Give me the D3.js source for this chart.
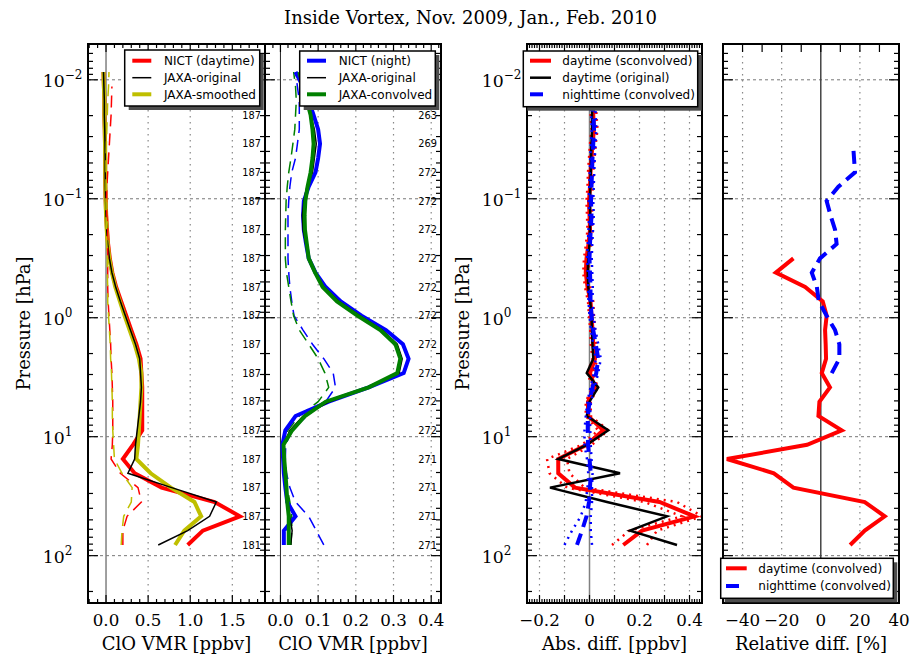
<!DOCTYPE html>
<html><head><meta charset="utf-8">
<script src="https://cdn.jsdelivr.net/npm/d3@7"></script>
<style>body{margin:0;background:#fff}svg{display:block}</style>
</head><body><svg id="c" width="912" height="659"></svg>
<script>
// ---------------- DATA ----------------
const titleText = "Inside Vortex, Nov. 2009, Jan., Feb. 2010";
// pressure levels [hPa], bottom (high pressure) to top
const pressure = [81.3,61.6,46.7,35.4,26.8,20.3,15.4,11.7,8.84,6.70,5.08,3.85,2.92,2.21,1.67,1.27,0.962,0.728,0.552,0.418,0.317,0.240,0.182,0.138,0.1045,0.0792,0.0600,0.0455,0.0345,0.0261,0.0198,0.0150,0.0114,0.0086];
// Panel 1: daytime ClO [ppbv]
const nictDay      = [0.97,1.15,1.59,1.29,0.66,0.34,0.20,0.32,0.43,0.43,0.43,0.43,0.42,0.41,0.36,0.30,0.24,0.18,0.12,0.075,0.045,0.025,0.012,0.002,-0.004,-0.008,-0.01,-0.01,-0.012,-0.015,-0.02,-0.02,-0.025,-0.03];
const jaxaDayOrig  = [0.62,0.97,1.23,1.31,0.78,0.26,0.34,0.35,0.37,0.39,0.41,0.42,0.41,0.40,0.35,0.29,0.23,0.17,0.115,0.07,0.04,0.02,0.008,0.0,-0.005,-0.008,-0.01,-0.01,-0.012,-0.015,-0.02,-0.02,-0.025,-0.03];
const jaxaDaySmooth= [0.82,0.93,1.13,1.05,0.77,0.53,0.36,0.38,0.39,0.40,0.41,0.42,0.42,0.39,0.34,0.28,0.22,0.165,0.11,0.07,0.04,0.02,0.008,0.0,-0.005,-0.008,-0.01,-0.01,-0.012,-0.015,-0.02,-0.02,-0.025,-0.03];
const nictDayDash  = [0.20,0.20,0.25,0.42,0.38,0.17,0.06,0.075,0.08,0.08,0.08,0.075,0.07,0.06,0.055,0.045,0.035,0.025,0.02,0.02,0.02,0.02,0.02,0.01,0.005,0.01,0.02,0.03,0.04,0.05,0.06,0.065,0.07,null];
const jaxaDayDash  = [0.18,0.19,0.21,0.30,0.31,0.19,0.10,0.09,0.08,0.075,0.075,0.07,0.065,0.055,0.05,0.04,0.03,0.02,0.02,0.015,0.015,0.01,0.005,0,0,0,0,0,0.005,0.01,0.015,0.02,0.03,0.035];
// Panel 2: nighttime ClO [ppbv]
const nictNight    = [0.009,0.009,0.04,0.018,0.013,0.009,0.007,0.005,0.013,0.04,0.128,0.234,0.327,0.34,0.325,0.28,0.215,0.16,0.12,0.093,0.075,0.068,0.062,0.06,0.062,0.075,0.093,0.10,0.105,0.10,0.088,0.075,0.06,0.04];
const jaxaNightOrig= [0.027,0.031,0.025,0.02,0.015,0.012,0.008,0.008,0.025,0.06,0.13,0.235,0.315,0.323,0.31,0.27,0.21,0.155,0.115,0.09,0.074,0.067,0.06,0.058,0.062,0.07,0.085,0.09,0.095,0.09,0.08,0.07,0.06,0.05];
const jaxaNightConv= [0.022,0.022,0.022,0.018,0.016,0.013,0.01,0.008,0.031,0.065,0.12,0.234,0.31,0.318,0.305,0.265,0.205,0.15,0.112,0.092,0.075,0.07,0.065,0.064,0.066,0.072,0.08,0.085,0.088,0.085,0.08,0.07,0.06,0.05];
const nictNightDash= [0.115,0.095,0.075,0.04,0.025,0.016,0.013,0.014,0.03,0.07,0.12,0.146,0.14,0.115,0.085,0.06,0.036,0.03,0.025,0.022,0.02,0.02,0.02,0.02,0.022,0.025,0.03,0.04,0.045,0.05,0.05,0.05,0.045,0.04];
const jaxaNightDash= [0.028,0.03,0.03,0.025,0.018,0.012,0.009,0.01,0.02,0.05,0.1,0.128,0.118,0.1,0.075,0.05,0.035,0.028,0.022,0.016,0.013,0.013,0.013,0.014,0.015,0.018,0.022,0.028,0.033,0.038,0.04,0.042,0.04,0.035];
// Panel 3: absolute differences [ppbv]
const dayConvDiff  = [0.135,0.21,0.42,0.28,-0.058,-0.125,-0.125,-0.011,0.055,-0.006,-0.006,0.022,0.002,0.022,0.015,0.012,0.008,0.004,-0.008,-0.015,-0.012,-0.004,0.002,0.0,-0.002,0.002,0.004,0.008,0.012,0.018,0.015,0.012,0.01,0.01];
const dayConvLo    = [0.09,0.16,0.37,0.22,-0.09,-0.16,-0.17,-0.03,0.035,-0.015,-0.015,0.012,-0.008,0.012,0.005,0.003,-0.002,-0.006,-0.018,-0.025,-0.022,-0.014,-0.008,-0.01,-0.012,-0.008,-0.006,-0.002,0.002,0.008,0.005,0.002,0.0,0.0];
const dayConvHi    = [0.23,0.27,0.45,0.35,-0.02,-0.08,-0.09,0.01,0.075,0.005,0.005,0.033,0.013,0.033,0.026,0.022,0.018,0.015,0.003,-0.004,-0.001,0.007,0.013,0.011,0.009,0.013,0.015,0.02,0.025,0.032,0.028,0.024,0.022,0.022];
const dayOrigDiff  = [0.35,0.162,0.31,0.07,-0.158,0.122,-0.125,-0.011,0.075,-0.011,0.0,0.035,-0.011,0.015,0.012,0.01,0.008,0.003,-0.005,-0.007,-0.005,0.0,0.002,0.003,0.002,0.003,0.005,0.006,0.008,0.01,0.01,0.01,0.008,0.008];
const nightConvDiff= [-0.05,-0.03,-0.012,-0.002,0.002,0.005,0.0,-0.006,-0.007,-0.007,0.0,0.012,0.027,0.035,0.025,0.015,0.008,0.004,0.004,0.002,0.0,0.002,0.005,0.008,0.006,0.008,0.01,0.012,0.015,0.018,0.016,0.012,0.01,0.01];
const nightConvLo  = [-0.10,-0.07,-0.035,-0.015,-0.008,-0.005,-0.01,-0.02,-0.02,-0.015,-0.008,0.004,0.018,0.025,0.015,0.006,0.0,-0.004,-0.005,-0.007,-0.009,-0.007,-0.004,-0.001,-0.003,-0.001,0.001,0.003,0.006,0.009,0.007,0.003,0.001,0.001];
const nightConvHi  = [0.01,0.005,0.005,0.01,0.01,0.012,0.008,0.005,0.003,0.002,0.006,0.02,0.035,0.045,0.035,0.024,0.016,0.012,0.013,0.011,0.009,0.011,0.014,0.017,0.015,0.017,0.019,0.021,0.024,0.027,0.025,0.021,0.019,0.019];
// Panel 4: relative differences [%]
const dayRel   = [15,22.5,32.7,22.5,-14,-24,-48,-7,10.7,-1.2,-0.7,4.7,0.5,2.7,2.5,2.2,3,1,-8,-23,-14,null,null,null,null,null,null,null,null,null,null,null,null,null];
const nightRel = [null,null,null,null,null,null,null,null,null,null,null,null,5.6,9.5,9.5,7.3,3,-1,-2,-4.6,-0.4,8.1,7.3,5,3,9,17.5,17,16.5,null,null,null,null,null];
// number of profiles, every second level from the bottom
const countsDay   = [181,187,187,187,187,187,187,187,187,187,187,187,187,187,187,187];
const countsNight = [271,271,271,271,272,272,272,272,272,272,272,272,272,272,269,263];
// tick labels
const yDecades = [0.01,0.1,1,10,100];
const yDecadeExp = ["\u22122","\u22121","0","1","2"];
const p1Ticks = [0,0.5,1.0,1.5];
const p2Ticks = [0,0.1,0.2,0.3,0.4];
const p3Ticks = [-0.2,0,0.2,0.4];
const p4Ticks = [-40,-20,0,20,40];

// ---------------- DRAW ----------------
const W=912,H=659, Y0=44, Y1=603;
const serif="'DejaVu Serif', serif", sans="'DejaVu Sans', sans-serif";
const svg=d3.select('#c');
svg.append('rect').attr('width',W).attr('height',H).attr('fill','#fff');
const y=d3.scaleLog().domain([250,0.005]).range([Y1,Y0]);
const minorP=[];
for(let e=-3;e<=2;e++)for(let m=2;m<=9;m++){const v=m*Math.pow(10,e);if(v>=0.0049&&v<=251)minorP.push(v);}
const fmtMinus=s=>s.replace('-','\u2212');

svg.append('text').attr('x',470.5).attr('y',24).attr('text-anchor','middle')
  .attr('font-family',serif).attr('font-size',18).text(titleText);

const RED='#ff0000',BLUE='#0000ff',GREEN='#008000',YEL='#bfbf00',BLK='#000000';
const panels=[
 {id:1,x0:88,x1:265,dom:[-0.214,1.888],ticks:p1Ticks,fmt:d=>d.toFixed(1),major:p1Ticks,minor:d3.range(-2,19).map(i=>i/10),
  grid:[0.5,1,1.5],zero:'#808080',zw:1.5,xlabel:'ClO VMR [ppbv]',ylab:true,counts:countsDay,
  series:[
   {v:nictDay,c:RED,w:4},{v:jaxaDaySmooth,c:YEL,w:4},{v:jaxaDayOrig,c:BLK,w:1.5},
   {v:nictDayDash,c:RED,w:1.5,d:'12,7'},{v:jaxaDayDash,c:YEL,w:1.5,d:'12,7'}],
  legend:{x:124.7,y:50,w:135,h:56,rows:[10.7,27.7,44.3],sx:7.6,sl:19,tx:39.3,items:[
   {t:'NICT (daytime)',c:RED,w:4},{t:'JAXA-original',c:BLK,w:1.5},{t:'JAXA-smoothed',c:YEL,w:4}]}},
 {id:2,x0:265,x1:441,dom:[-0.041,0.426],ticks:p2Ticks,fmt:d=>d.toFixed(1),major:p2Ticks,minor:d3.range(-2,22).map(i=>i/50),
  grid:[0.1,0.2,0.3,0.4],zero:'#222',zw:1,xlabel:'ClO VMR [ppbv]',ylab:false,counts:countsNight,
  series:[
   {v:nictNightDash,c:BLUE,w:1.5,d:'12,7'},{v:jaxaNightDash,c:GREEN,w:1.5,d:'12,7'},
   {v:nictNight,c:BLUE,w:4},{v:jaxaNightOrig,c:BLK,w:1.5},{v:jaxaNightConv,c:GREEN,w:4}],
  legend:{x:299.7,y:51,w:135.6,h:55,rows:[9.7,26.7,43.3],sx:7.3,sl:19,tx:39,items:[
   {t:'NICT (night)',c:BLUE,w:4},{t:'JAXA-original',c:BLK,w:1.5},{t:'JAXA-convolved',c:GREEN,w:4}]}},
 {id:3,x0:527,x1:702,dom:[-0.25,0.45],ticks:p3Ticks,fmt:d=>d===0?'0':fmtMinus(d.toFixed(1)),major:d3.range(-2,5).map(i=>i/10),minor:d3.range(-25,46).map(i=>i/100),
  grid:[-0.2,-0.1,0.1,0.2,0.3,0.4],zero:'#808080',zw:1.5,xlabel:'Abs. diff. [ppbv]',ylab:true,counts:null,
  series:[
   {v:dayConvLo,c:RED,w:2.5,d:'2,5'},{v:dayConvHi,c:RED,w:2.5,d:'2,5'},
   {v:dayConvDiff,c:RED,w:4},{v:dayOrigDiff,c:BLK,w:2.5},
   {v:nightConvLo,c:BLUE,w:2.5,d:'2,5'},{v:nightConvHi,c:BLUE,w:2.5,d:'2,5'},
   {v:nightConvDiff,c:BLUE,w:4,d:'12,7'}],
  legend:{x:523.3,y:51,w:174.4,h:55.7,rows:[9.7,26.7,43.3],sx:6.7,sl:21,tx:39,items:[
   {t:'daytime (sconvolved)',c:RED,w:4},{t:'daytime (original)',c:BLK,w:2.5},{t:'nighttime (convolved)',c:BLUE,w:4,d:'13,9'}]}},
 {id:4,x0:723,x1:899,dom:[-50,40],ticks:p4Ticks,fmt:d=>fmtMinus(String(d)),major:d3.range(-5,5).map(i=>i*10),minor:[],
  grid:[-40,-20,20],zero:'#444',zw:1.5,xlabel:'Relative diff. [%]',ylab:false,counts:null,
  series:[{v:dayRel,c:RED,w:4},{v:nightRel,c:BLUE,w:4,d:'13,7'}],
  legend:{x:720.7,y:558.3,w:172.6,h:40,rows:[10,27.7],sx:5.3,sl:20.7,tx:37.6,items:[
   {t:'daytime (convolved)',c:RED,w:4},{t:'nighttime (convolved)',c:BLUE,w:4,d:'13,9'}]}}
];

panels.forEach(P=>{
  const x=d3.scaleLinear().domain(P.dom).range([P.x0,P.x1]);
  const g=svg.append('g');
  const cid='clip'+P.id;
  svg.append('clipPath').attr('id',cid).append('rect').attr('x',P.x0).attr('y',Y0).attr('width',P.x1-P.x0).attr('height',Y1-Y0);
  // grid
  g.selectAll('line.hg').data(yDecades).join('line').attr('class','hg')
   .attr('x1',P.x0).attr('x2',P.x1).attr('y1',d=>y(d)).attr('y2',d=>y(d))
   .attr('stroke','#777').attr('stroke-width',1).attr('stroke-dasharray','3,3');
  g.selectAll('line.vg').data(P.grid).join('line').attr('class','vg')
   .attr('x1',d=>x(d)).attr('x2',d=>x(d)).attr('y1',Y0).attr('y2',Y1)
   .attr('stroke','#888').attr('stroke-width',1.2).attr('stroke-dasharray','1.5,4.5');
  g.append('line').attr('x1',x(0)).attr('x2',x(0)).attr('y1',Y0).attr('y2',Y1)
   .attr('stroke',P.zero).attr('stroke-width',P.zw);
  // data
  const dg=g.append('g').attr('clip-path',`url(#${cid})`);
  const line=d3.line().defined(d=>d.v!=null).x(d=>x(d.v)).y(d=>y(d.p));
  P.series.forEach(s=>{
    dg.append('path').attr('d',line(pressure.map((p,i)=>({p,v:s.v[i]}))))
      .attr('fill','none').attr('stroke',s.c).attr('stroke-width',s.w)
      .attr('stroke-dasharray',s.d||null).attr('stroke-linejoin','miter').attr('stroke-miterlimit',4);
  });
  // counts
  if(P.counts){
    const cp=pressure.filter((_,i)=>i%2===0&&i<=30);
    g.selectAll('text.cnt').data(P.counts).join('text').attr('class','cnt')
     .attr('x',P.x1-4).attr('y',(d,i)=>y(cp[i])+3.6).attr('text-anchor','end')
     .attr('font-family',sans).attr('font-size',9.8).attr('fill','#000').text(d=>d);
  }
  // ticks
  const tg=g.append('g').attr('stroke','#000').attr('stroke-width',1.2);
  const yt=[...yDecades.map(p=>({p,l:10})),...minorP.map(p=>({p,l:5}))];
  yt.forEach(t=>{
    tg.append('line').attr('x1',P.x0).attr('x2',P.x0+t.l).attr('y1',y(t.p)).attr('y2',y(t.p));
    tg.append('line').attr('x1',P.x1-t.l).attr('x2',P.x1).attr('y1',y(t.p)).attr('y2',y(t.p));
  });
  const xt=[...P.major.map(v=>({v,l:8})),...P.minor.filter(v=>!P.major.some(m=>Math.abs(m-v)<1e-9)).map(v=>({v,l:4}))]
    .filter(t=>t.v>=P.dom[0]-1e-9&&t.v<=P.dom[1]+1e-9);
  xt.forEach(t=>{
    tg.append('line').attr('x1',x(t.v)).attr('x2',x(t.v)).attr('y1',Y1).attr('y2',Y1-t.l);
    tg.append('line').attr('x1',x(t.v)).attr('x2',x(t.v)).attr('y1',Y0).attr('y2',Y0+t.l);
  });
  // frame
  g.append('rect').attr('x',P.x0).attr('y',Y0).attr('width',P.x1-P.x0).attr('height',Y1-Y0)
   .attr('fill','none').attr('stroke','#000').attr('stroke-width',2);
  // x tick labels
  g.selectAll('text.xt').data(P.ticks).join('text').attr('class','xt')
   .attr('x',d=>x(d)).attr('y',626).attr('text-anchor','middle')
   .attr('font-family',serif).attr('font-size',16.7).text(P.fmt);
  g.append('text').attr('x',(P.x0+P.x1)/2).attr('y',650).attr('text-anchor','middle')
   .attr('font-family',serif).attr('font-size',18).text(P.xlabel);
  // y tick labels
  if(P.ylab){
    yDecades.forEach((p,i)=>{
      const t=g.append('text').attr('x',P.x0-45.3).attr('y',y(p)+7).attr('font-family',serif).attr('font-size',17.3);
      t.append('tspan').text('10');
      t.append('tspan').attr('dy',-7.5).attr('font-size',12).text(yDecadeExp[i]);
    });
    g.append('text').attr('transform',`translate(${P.x0-58},${(Y0+Y1)/2}) rotate(-90)`)
     .attr('text-anchor','middle').attr('font-family',serif).attr('font-size',18).text('Pressure [hPa]');
  }
  // legend
  const L=P.legend, lg=svg.append('g');
  lg.append('rect').attr('x',L.x+4).attr('y',L.y+4).attr('width',L.w).attr('height',L.h).attr('fill','#4d4d4d');
  lg.append('rect').attr('x',L.x).attr('y',L.y).attr('width',L.w).attr('height',L.h).attr('fill','#fff').attr('stroke','#000').attr('stroke-width',1.5);
  L.items.forEach((it,i)=>{
    const cy=L.y+L.rows[i];
    lg.append('line').attr('x1',L.x+L.sx).attr('x2',L.x+L.sx+L.sl).attr('y1',cy).attr('y2',cy)
      .attr('stroke',it.c).attr('stroke-width',it.w).attr('stroke-dasharray',it.d||null);
    lg.append('text').attr('x',L.x+L.tx).attr('y',cy+4.3).attr('font-family',sans).attr('font-size',12).text(it.t);
  });
});
</script></body></html>
